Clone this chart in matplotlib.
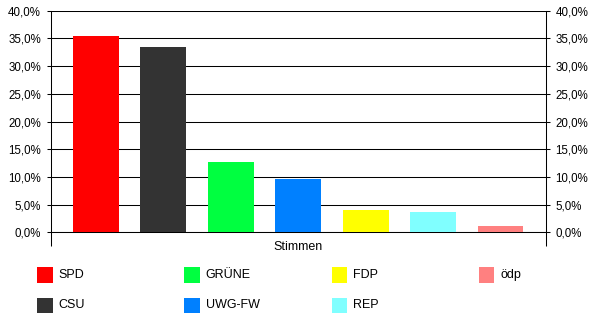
import matplotlib
matplotlib.use("Agg")
import matplotlib.pyplot as plt
from matplotlib.patches import Rectangle
from matplotlib.ticker import FuncFormatter

parties = ["SPD", "CSU", "GRÜNE", "UWG-FW", "FDP", "REP", "ödp"]
values = [35.4, 33.4, 12.7, 9.6, 4.0, 3.7, 1.1]
colors = ["#FF0000", "#333333", "#00FF40", "#0080FF", "#FFFF00", "#80FFFF", "#FF8080"]
category = "Stimmen"
yticks = [0, 5, 10, 15, 20, 25, 30, 35, 40]

plt.rcParams['font.family'] = ['Liberation Sans', 'DejaVu Sans']
plt.rcParams['font.size'] = 8

W, H = 600, 326
fig = plt.figure(figsize=(W / 100, H / 100), dpi=100)
ax = fig.add_axes([50.7 / W, (H - 232.3) / H, (545.7 - 50.7) / W, (232.3 - 10.7) / H])

x = list(range(len(parties)))
ax.bar(x, values, width=0.68, color=colors, zorder=3)
ax.set_xlim(-0.67, len(parties) - 1 + 0.67)
ax.set_ylim(0, 40)

fmt = FuncFormatter(lambda v, p: f"{v:.1f}%".replace(".", ","))
ax.set_yticks(yticks)
ax.yaxis.set_major_formatter(fmt)
ax.yaxis.grid(True, color="black", linewidth=0.75, zorder=1)
ax.tick_params(axis="y", which="both", direction="out", length=3, width=0.75,
               pad=4, left=True, right=True, labelleft=True, labelright=True,
               labelsize=8.3, colors="black")

ax.set_xticks([-0.67, len(parties) - 1 + 0.67])
ax.set_xticklabels(["", ""])
ax.tick_params(axis="x", direction="out", length=10, width=0.75, colors="black")

for s in ["left", "right", "bottom"]:
    ax.spines[s].set_color("black")
    ax.spines[s].set_linewidth(0.75)
ax.spines["top"].set_visible(False)

ax.text(0.5, -0.068, category, transform=ax.transAxes, ha="center", va="center", fontsize=9)

# legend (column-first, 2 rows)
col_x = [37.3, 184.3, 331.7, 479.0]
row_y = [275.0, 305.3]
sq = 15.3
for i, (name, c) in enumerate(zip(parties, colors)):
    col, row = divmod(i, 2)
    cx = col_x[col]
    cy = row_y[row]
    fig.add_artist(Rectangle((cx / W, (H - cy - sq / 2) / H), sq / W, sq / H,
                             transform=fig.transFigure, facecolor=c, edgecolor="none"))
    fig.text((cx + 21.5) / W, (H - cy) / H, name, ha="left", va="center", fontsize=9)

fig.savefig("out.png", dpi=100)
